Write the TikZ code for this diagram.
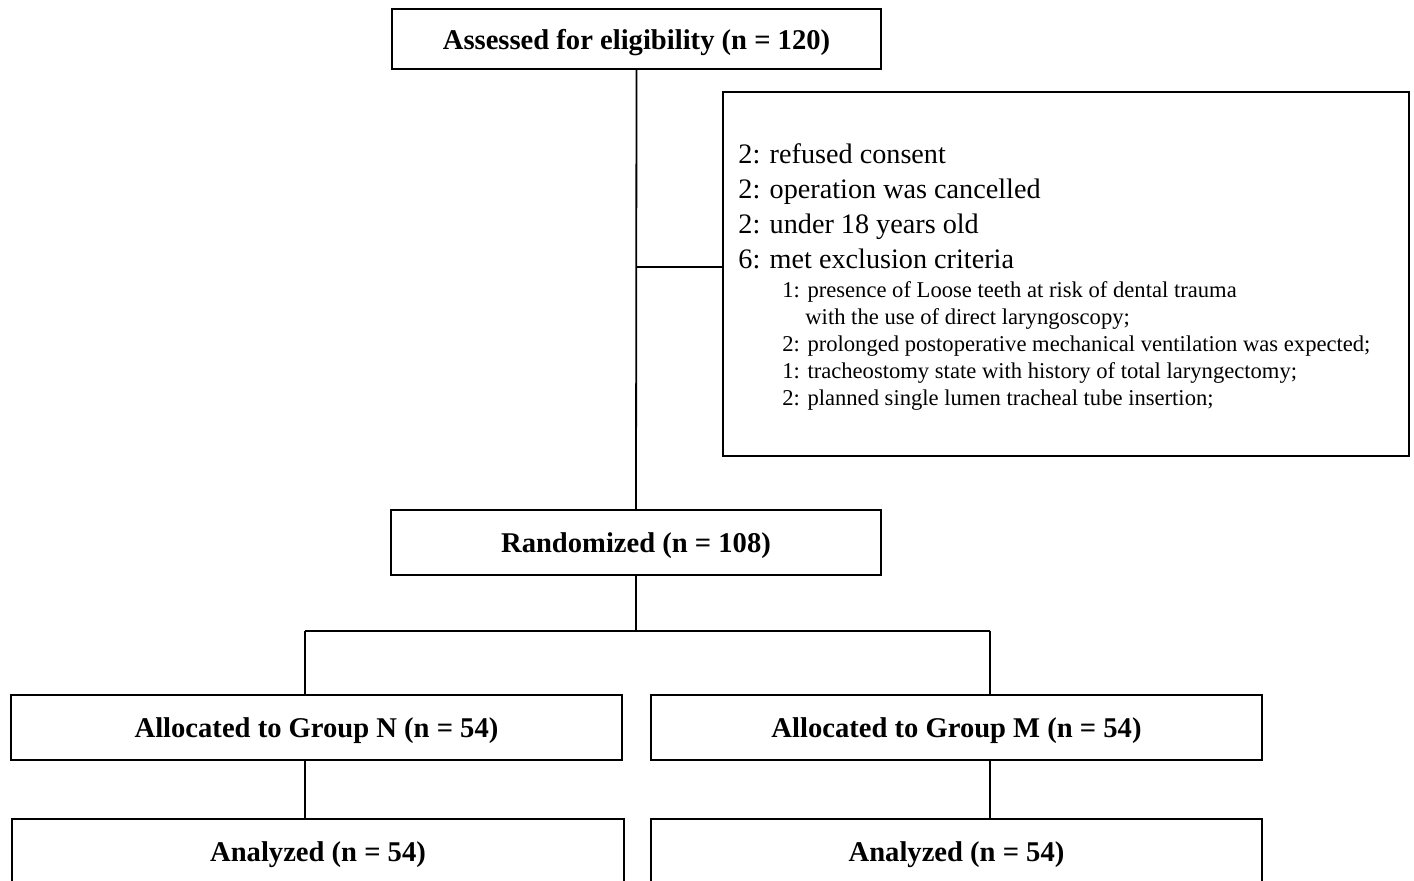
\documentclass[tikz,border=0pt]{standalone}
\usepackage{fontspec}
\setmainfont{Liberation Serif}
\begin{document}
\begin{tikzpicture}[x=0.5pt,y=-0.5pt,
  box/.style={draw, line width=0.9pt, inner sep=0pt, text depth=0pt, font=\bfseries\fontsize{14.3}{16}\selectfont},
  big/.style={anchor=base west, inner sep=0pt, font=\fontsize{14.1}{16}\selectfont},
  small/.style={anchor=base west, inner sep=0pt, font=\fontsize{11.3}{13}\selectfont},
  conn/.style={line width=0.9pt}]
\useasboundingbox (0,0) rectangle (1414,880);
\clip (0,0) rectangle (1414,880);
\node[box, minimum width=244.5pt, minimum height=30pt] (assess) at (636.5,39) {Assessed for eligibility (n = 120)};
\node[draw, line width=0.9pt, minimum width=343pt, minimum height=182pt, inner sep=0pt] (excl) at (1066,274) {};
\node[big] (e1) at (738,163) {2: refused consent};
\node[big] (e2) at (738,198) {2: operation was cancelled};
\node[big] (e3) at (738,233) {2: under 18 years old};
\node[big] (e4) at (738,268) {6: met exclusion criteria};
\node[small] (s1) at (782,297) {1: presence of Loose teeth at risk of dental trauma};
\node[small] (s1b) at (805,324) {with the use of direct laryngoscopy;};
\node[small] (s2) at (782,351) {2: prolonged postoperative mechanical ventilation was expected;};
\node[small] (s3) at (782,378) {1: tracheostomy state with history of total laryngectomy;};
\node[small] (s4) at (782,405) {2: planned single lumen tracheal tube insertion;};
\node[box, minimum width=245pt, minimum height=32.5pt] (rand) at (636,542.5) {Randomized (n = 108)};
\node[box, minimum width=305.5pt, minimum height=32.5pt] (allocN) at (316.5,727.5) {Allocated to Group N (n = 54)};
\node[box, minimum width=305.5pt, minimum height=32.5pt] (allocM) at (956.5,727.5) {Allocated to Group M (n = 54)};
\node[box, minimum width=306pt, minimum height=33pt] (analN) at (318,852) {Analyzed (n = 54)};
\node[box, minimum width=305.5pt, minimum height=33pt] (analM) at (956.5,852) {Analyzed (n = 54)};
\coordinate (j) at (636.5,267);
\coordinate (sN) at (305,631);
\coordinate (sM) at (990,631);
\draw[conn] (assess.south) -- (rand.north);
\draw[conn] (j) -- (j -| excl.west);
\draw[conn] (rand.south) -- (rand.south |- sN);
\draw[conn] (sN) -- (sM);
\draw[conn] (sN) -- (sN |- allocN.north);
\draw[conn] (sM) -- (sM |- allocM.north);
\draw[conn] (sN |- allocN.south) -- (sN |- analN.north);
\draw[conn] (sM |- allocM.south) -- (sM |- analM.north);
\end{tikzpicture}
\end{document}
